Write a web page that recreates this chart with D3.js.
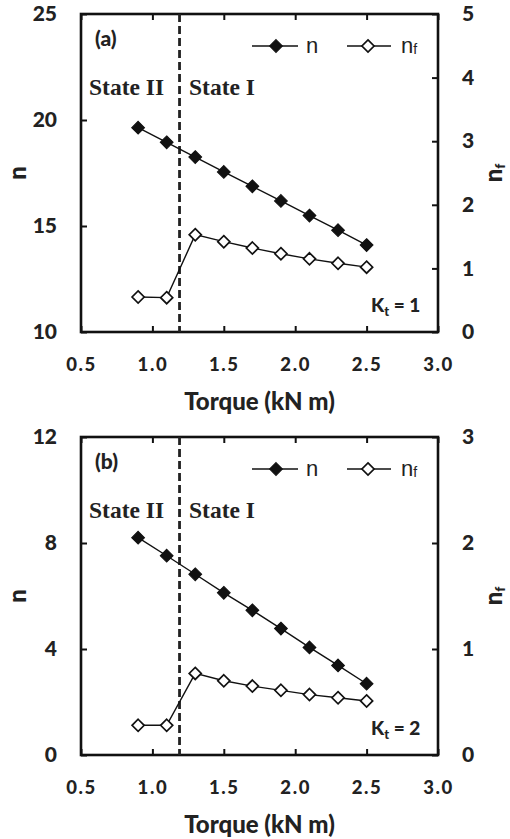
<!DOCTYPE html>
<html><head><meta charset="utf-8">
<script src="https://cdn.jsdelivr.net/npm/d3@7/dist/d3.min.js"></script>
<style>body{margin:0;background:#fff}svg{display:block}</style>
</head><body>
<svg id="c" width="510" height="839"></svg>
<script>
const torque = [0.9, 1.1, 1.3, 1.5, 1.7, 1.9, 2.1, 2.3, 2.5];
const nA  = [19.64, 18.95, 18.25, 17.55, 16.87, 16.18, 15.49, 14.80, 14.10];
const nfA = [0.55, 0.54, 1.53, 1.42, 1.32, 1.23, 1.15, 1.08, 1.02];
const nB  = [8.20, 7.52, 6.82, 6.12, 5.46, 4.77, 4.06, 3.38, 2.69];
const nfB = [0.28, 0.28, 0.77, 0.70, 0.65, 0.61, 0.57, 0.54, 0.51];
const xTicks = [0.5, 1.0, 1.5, 2.0, 2.5, 3.0];
const yTicksA = [10, 15, 20, 25];
const y2TicksA = [0, 1, 2, 3, 4, 5];
const yTicksB = [0, 4, 8, 12];
const y2TicksB = [0, 1, 2, 3];
const stateBoundary = 1.19;

const svg = d3.select("#c");
const tickFont = "Lato, 'Open Sans', sans-serif";
const W = 900;

function panel(o) {
  const left = 81, right = 438, top = o.top, bottom = o.top + 318;
  const x = d3.scaleLinear().domain([0.5, 3.0]).range([left, right]);
  const y = d3.scaleLinear().domain(o.yDomain).range([bottom, top]);
  const y2 = d3.scaleLinear().domain(o.y2Domain).range([bottom, top]);
  const g = svg.append("g");

  const fmtX = d3.format(".1f");
  const ax = g.append("g").attr("transform", `translate(0,${bottom})`)
    .call(d3.axisBottom(x).tickValues(xTicks).tickSize(-6).tickPadding(32).tickFormat(fmtX));
  const axT = g.append("g").attr("transform", `translate(0,${top})`)
    .call(d3.axisTop(x).tickValues(xTicks).tickSize(-6).tickFormat(""));
  const ayl = g.append("g").attr("transform", `translate(${left},0)`)
    .call(d3.axisLeft(y).tickValues(o.yTicks).tickSize(-6).tickPadding(24).tickFormat(d3.format("d")));
  const ayr = g.append("g").attr("transform", `translate(${right},0)`)
    .call(d3.axisRight(y2).tickValues(o.y2Ticks).tickSize(-6).tickPadding(24).tickFormat(d3.format("d")));
  [ax, axT, ayl, ayr].forEach(a => {
    a.select(".domain").remove();
    a.selectAll(".tick line").attr("stroke", "#111").attr("stroke-width", 2);
    a.selectAll("text").attr("font-family", tickFont).attr("font-weight", W)
      .attr("font-size", 21).attr("fill", "#222");
  });
  ax.selectAll("text").attr("dy", "0.36em").attr("font-size", 18.5).attr("letter-spacing", 1.6);
  g.append("rect").attr("x", left).attr("y", top).attr("width", right - left).attr("height", bottom - top)
    .attr("fill", "none").attr("stroke", "#111").attr("stroke-width", 2.6);

  g.append("line").attr("x1", x(stateBoundary)).attr("x2", x(stateBoundary))
    .attr("y1", top).attr("y2", bottom).attr("stroke", "#222").attr("stroke-width", 2.8)
    .attr("stroke-dasharray", "8,4");

  const line = (ys, sc) => d3.line().x((d, i) => x(torque[i])).y(d => sc(d))(ys);
  g.append("path").attr("d", line(o.nf, y2)).attr("fill", "none").attr("stroke", "#111").attr("stroke-width", 1.4);
  g.append("path").attr("d", line(o.n, y)).attr("fill", "none").attr("stroke", "#111").attr("stroke-width", 1.4);
  const diamond = d3.symbol().type(d3.symbolDiamond2).size(85)();
  g.selectAll(".dn").data(o.n).join("path").attr("d", diamond)
    .attr("transform", (d, i) => `translate(${x(torque[i])},${y(d)}) scale(1.1)`)
    .attr("fill", "#111").attr("stroke", "#111").attr("stroke-width", 1);
  g.selectAll(".df").data(o.nf).join("path").attr("d", diamond)
    .attr("transform", (d, i) => `translate(${x(torque[i])},${y2(d)}) scale(1.05)`)
    .attr("fill", "#fff").attr("stroke", "#111").attr("stroke-width", 1.6);

  g.append("text").attr("x", 95).attr("y", top + 32).text(o.label)
    .attr("font-family", tickFont).attr("font-weight", W).attr("font-size", 21).attr("fill", "#222");
  const st = g.append("g").attr("font-family", "'Liberation Serif', 'Times New Roman', serif")
    .attr("font-weight", "bold").attr("font-size", 23.5).attr("fill", "#222");
  st.append("text").attr("x", 89).attr("y", top + 81).text("State II");
  st.append("text").attr("x", 189).attr("y", top + 81).text("State I");

  const ly = top + 32;
  const lg = g.append("g");
  lg.append("line").attr("x1", 252).attr("x2", 298).attr("y1", ly).attr("y2", ly).attr("stroke", "#111").attr("stroke-width", 1.4);
  lg.append("path").attr("d", diamond).attr("transform", `translate(276,${ly}) scale(1.1)`).attr("fill", "#111").attr("stroke", "#111");
  lg.append("text").attr("x", 306).attr("y", ly + 7).text("n")
    .attr("font-family", "'Liberation Sans', Arial, sans-serif").attr("font-size", 22).attr("fill", "#222");
  lg.append("line").attr("x1", 347).attr("x2", 391).attr("y1", ly).attr("y2", ly).attr("stroke", "#111").attr("stroke-width", 1.4);
  lg.append("path").attr("d", diamond).attr("transform", `translate(368,${ly}) scale(1.05)`).attr("fill", "#fff").attr("stroke", "#111").attr("stroke-width", 1.6);
  const nfT = lg.append("text").attr("x", 401).attr("y", ly + 7)
    .attr("font-family", "'Liberation Sans', Arial, sans-serif").attr("font-size", 22).attr("fill", "#222");
  nfT.append("tspan").text("n");
  nfT.append("tspan").text("f").attr("font-size", 14).attr("dy", 1);

  const kt = g.append("text").attr("x", 371).attr("y", bottom - 20)
    .attr("font-family", tickFont).attr("font-weight", W).attr("font-size", 19).attr("fill", "#222");
  kt.append("tspan").text("K");
  kt.append("tspan").text("t").attr("font-size", 13).attr("dy", 4);
  kt.append("tspan").text(" = " + o.kt).attr("dy", -4);

  g.append("text").attr("x", x(1.75)).attr("y", bottom + 78).attr("text-anchor", "middle").text("Torque (kN m)")
    .attr("font-family", tickFont).attr("font-weight", W).attr("font-size", 24).attr("fill", "#222");
  g.append("text").attr("transform", `translate(26,${(top + bottom) / 2}) rotate(-90)`).attr("text-anchor", "middle").text("n")
    .attr("font-family", tickFont).attr("font-weight", W).attr("font-size", 24).attr("fill", "#222");
  const r = g.append("text").attr("transform", `translate(502,${(top + bottom) / 2}) rotate(-90)`).attr("text-anchor", "middle")
    .attr("font-family", tickFont).attr("font-weight", W).attr("font-size", 24).attr("fill", "#222");
  r.append("tspan").text("n");
  r.append("tspan").text("f").attr("font-size", 14).attr("dy", 3);
}

panel({ top: 14, yDomain: [10, 25], y2Domain: [0, 5], yTicks: yTicksA, y2Ticks: y2TicksA, n: nA, nf: nfA, label: "(a)", kt: 1 });
panel({ top: 437, yDomain: [0, 12], y2Domain: [0, 3], yTicks: yTicksB, y2Ticks: y2TicksB, n: nB, nf: nfB, label: "(b)", kt: 2 });
</script>
</body></html>
